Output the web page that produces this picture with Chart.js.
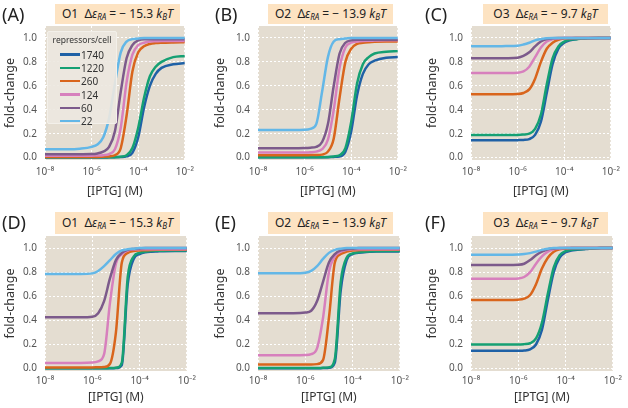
<!DOCTYPE html>
<html>
<head>
<meta charset="utf-8">
<script src="https://cdn.jsdelivr.net/npm/chart.js@4.4.1/dist/chart.umd.min.js"></script>
<style>
  body { margin: 0; width: 628px; height: 408px; background: #fff; position: relative; overflow: hidden; font-family: 'Noto Sans', sans-serif; }
  .panel { position: absolute; }
  .tag { position: absolute; font-size: 18px; color: #222; line-height: 20px; }
  .head { position: absolute; background: #fde3c2; font-size: 12px; color: #222; text-align: center; white-space: nowrap; }
  .head sub { font-size: 8px; vertical-align: -2px; }
  .legend { position: absolute; background: rgba(236, 232, 224, 0.9); border: 1px solid #f3f0ea; border-radius: 2px; font-size: 10px; color: #333; }
  .legend .ttl { font-size: 8.5px; text-align: center; margin: 2px 0 3px 0; }
  .legend .row { height: 13.3px; display: flex; align-items: center; }
  .legend .sw { width: 20px; height: 2.5px; margin: 0 1px 0 12px; }
</style>
</head>
<body>
<script>
const LOG_IPTG = [-8, -7, -6.5, -6, -5.75, -5.5, -5.25, -5, -4.75, -4.5, -4.25, -4, -3.75, -3.5, -3.25, -3, -2.5, -2];
const X_TICKS = [-8, -6, -4, -2];
const Y_TICKS = [0, 0.2, 0.4, 0.6, 0.8, 1.0];
const REPRESSORS = ["1740", "1220", "260", "124", "60", "22"];
const OPERATORS = ["O1", "O2", "O3"];
const BINDING_ENERGY = [-15.3, -13.9, -9.7];
const LETTERS = ["A", "B", "C", "D", "E", "F"];

// fold-change, one row per repressor count (same order as REPRESSORS)
const FC_A = [
  [0.001,0.001,0.001,0.001,0.001,0.001,0.002,0.003,0.005,0.01,0.04,0.17,0.42,0.6,0.7,0.75,0.78,0.79],
  [0.002,0.002,0.002,0.002,0.002,0.002,0.003,0.004,0.008,0.02,0.08,0.25,0.5,0.68,0.76,0.8,0.84,0.85],
  [0.005,0.005,0.005,0.005,0.006,0.008,0.01,0.02,0.08,0.35,0.72,0.88,0.93,0.95,0.957,0.96,0.963,0.965],
  [0.015,0.015,0.015,0.016,0.018,0.02,0.03,0.07,0.25,0.63,0.86,0.94,0.96,0.97,0.972,0.974,0.975,0.975],
  [0.028,0.028,0.029,0.03,0.035,0.05,0.09,0.22,0.55,0.83,0.94,0.98,0.99,0.99,0.99,0.99,0.99,0.99],
  [0.07,0.07,0.075,0.09,0.11,0.17,0.33,0.62,0.88,0.97,0.99,0.995,1,1,1,1,1,1]
];
const FC_B = [
  [0.002,0.002,0.002,0.002,0.002,0.002,0.003,0.004,0.006,0.01,0.05,0.22,0.52,0.7,0.78,0.81,0.835,0.84],
  [0.003,0.003,0.003,0.003,0.003,0.003,0.004,0.006,0.01,0.02,0.08,0.3,0.62,0.78,0.84,0.87,0.885,0.89],
  [0.02,0.02,0.02,0.02,0.021,0.022,0.025,0.05,0.16,0.5,0.8,0.91,0.95,0.96,0.965,0.968,0.97,0.97],
  [0.042,0.042,0.042,0.043,0.045,0.05,0.07,0.15,0.4,0.75,0.92,0.96,0.97,0.975,0.977,0.978,0.98,0.98],
  [0.078,0.078,0.078,0.08,0.083,0.09,0.13,0.28,0.6,0.87,0.96,0.98,0.985,0.985,0.985,0.985,0.985,0.985],
  [0.23,0.23,0.23,0.232,0.24,0.28,0.55,0.84,0.97,0.99,0.995,1,1,1,1,1,1,1]
];
const FC_C = [
  [0.145,0.145,0.145,0.146,0.148,0.155,0.19,0.3,0.54,0.78,0.91,0.96,0.98,0.99,0.995,0.998,1,1],
  [0.19,0.19,0.19,0.19,0.193,0.2,0.24,0.36,0.61,0.83,0.93,0.97,0.985,0.99,0.995,0.998,1,1],
  [0.53,0.53,0.53,0.532,0.54,0.57,0.66,0.8,0.91,0.96,0.985,0.995,0.998,1,1,1,1,1],
  [0.707,0.707,0.708,0.71,0.72,0.76,0.84,0.92,0.97,0.99,0.996,1,1,1,1,1,1,1],
  [0.83,0.83,0.831,0.835,0.85,0.88,0.93,0.97,0.99,0.997,1,1,1,1,1,1,1,1],
  [0.93,0.93,0.932,0.935,0.945,0.96,0.98,0.99,0.997,1,1,1,1,1,1,1,1,1]
];
const FC_D = [
  [0.002,0.002,0.002,0.002,0.002,0.002,0.003,0.004,0.03,0.7,0.91,0.95,0.965,0.97,0.972,0.974,0.975,0.975],
  [0.003,0.003,0.003,0.003,0.003,0.003,0.004,0.006,0.05,0.76,0.93,0.96,0.97,0.975,0.977,0.978,0.98,0.98],
  [0.01,0.01,0.01,0.01,0.011,0.013,0.04,0.3,0.88,0.96,0.975,0.98,0.982,0.984,0.985,0.985,0.985,0.985],
  [0.047,0.047,0.047,0.05,0.06,0.12,0.55,0.87,0.95,0.98,0.988,0.99,0.99,0.99,0.99,0.99,0.99,0.99],
  [0.425,0.425,0.425,0.43,0.46,0.56,0.75,0.9,0.96,0.985,0.993,0.997,1,1,1,1,1,1],
  [0.785,0.785,0.785,0.79,0.81,0.85,0.9,0.95,0.98,0.99,0.995,1,1,1,1,1,1,1]
];
const FC_E = [
  [0.003,0.003,0.003,0.003,0.003,0.003,0.004,0.006,0.05,0.65,0.9,0.95,0.96,0.966,0.969,0.971,0.972,0.972],
  [0.005,0.005,0.005,0.005,0.005,0.005,0.006,0.01,0.08,0.72,0.92,0.955,0.965,0.97,0.972,0.974,0.975,0.975],
  [0.033,0.033,0.033,0.033,0.034,0.037,0.07,0.42,0.88,0.95,0.97,0.98,0.982,0.984,0.985,0.985,0.985,0.985],
  [0.11,0.11,0.11,0.112,0.12,0.17,0.42,0.8,0.93,0.97,0.985,0.99,0.99,0.99,0.99,0.99,0.99,0.99],
  [0.46,0.46,0.46,0.465,0.48,0.56,0.72,0.88,0.95,0.98,0.99,0.995,1,1,1,1,1,1],
  [0.79,0.79,0.79,0.795,0.81,0.85,0.91,0.96,0.985,0.995,1,1,1,1,1,1,1,1]
];
const FC_F = [
  [0.147,0.147,0.147,0.148,0.15,0.16,0.2,0.32,0.57,0.8,0.92,0.965,0.98,0.985,0.99,0.995,1,1],
  [0.2,0.2,0.2,0.2,0.203,0.21,0.25,0.38,0.62,0.84,0.94,0.975,0.985,0.99,0.993,0.995,1,1],
  [0.57,0.57,0.57,0.572,0.58,0.61,0.7,0.83,0.92,0.97,0.99,0.995,1,1,1,1,1,1],
  [0.745,0.745,0.745,0.748,0.76,0.8,0.87,0.93,0.97,0.99,0.997,1,1,1,1,1,1,1],
  [0.86,0.86,0.86,0.862,0.87,0.9,0.94,0.97,0.99,0.997,1,1,1,1,1,1,1,1],
  [0.945,0.945,0.945,0.947,0.95,0.958,0.97,0.985,0.995,1,1,1,1,1,1,1,1,1]
];
const ALL_FC = [FC_A, FC_B, FC_C, FC_D, FC_E, FC_F];

const COLORS = ["#1f61a6", "#15a073", "#d9651c", "#d780bd", "#7c5a8b", "#63b7e7"];
const PLOT_BG = "#e4ddd1";

// panel geometry (pixels)
const COLS = [
  { left: 0, yW: 45, tagX: 2, headX: 55 },
  { left: 210, yW: 48, tagX: 215, headX: 268 },
  { left: 422, yW: 49, tagX: 425, headX: 483 }
];
const ROWS = [
  { top: 0, h: 205, padTop: 26, xH: 43, padBottom: 2, tickPad: 6, titlePad: 4, tagY: 4, headY: 4, headH: 20 },
  { top: 205, h: 203, padTop: 31, xH: 36, padBottom: 1, tickPad: 4, titlePad: 2, tagY: 212, headY: 212, headH: 22 }
];

const SUP = { "-": "\u207b", "0": "\u2070", "1": "\u00b9", "2": "\u00b2", "3": "\u00b3", "4": "\u2074", "5": "\u2075", "6": "\u2076", "7": "\u2077", "8": "\u2078", "9": "\u2079" };
const sup = v => String(v).split("").map(c => SUP[c] || c).join("");

Chart.defaults.font.family = "'Noto Sans', sans-serif";

const bgPlugin = {
  id: "plotBg",
  beforeDraw(chart) {
    const a = chart.chartArea, ctx = chart.ctx;
    ctx.save();
    ctx.fillStyle = PLOT_BG;
    ctx.fillRect(a.left, a.top, a.right - a.left, a.bottom - a.top);
    ctx.restore();
  }
};

function addDiv(cls, x, y, html, extra) {
  const d = document.createElement("div");
  d.className = cls;
  d.style.left = x + "px";
  d.style.top = y + "px";
  if (extra) Object.assign(d.style, extra);
  d.innerHTML = html;
  document.body.appendChild(d);
  return d;
}

function makePanel(idx) {
  const col = COLS[idx % 3], row = ROWS[Math.floor(idx / 3)];
  const w = 200 + (col.yW - 45);
  const wrap = addDiv("panel", col.left, row.top, "", { width: w + "px", height: row.h + "px" });
  const canvas = document.createElement("canvas");
  canvas.width = w; canvas.height = row.h;
  wrap.appendChild(canvas);

  const vals = ALL_FC[idx];
  new Chart(canvas, {
    type: "line",
    data: {
      datasets: REPRESSORS.map((r, i) => ({
        label: r,
        data: LOG_IPTG.map((x, j) => ({ x: x, y: vals[i][j] })),
        borderColor: COLORS[i],
        borderWidth: 2.5,
        pointRadius: 0,
        fill: false,
        cubicInterpolationMode: "monotone",
        order: REPRESSORS.length - i
      }))
    },
    options: {
      responsive: false,
      animation: false,
      devicePixelRatio: 1,
      layout: { padding: { top: row.padTop, right: 10, bottom: row.padBottom, left: 0 } },
      plugins: { legend: { display: false }, tooltip: { enabled: false } },
      scales: {
        x: {
          type: "linear", min: -8, max: -2,
          afterBuildTicks: s => { s.ticks = X_TICKS.map(v => ({ value: v })); },
          afterFit: s => { s.height = row.xH; },
          grid: { color: "#ffffff", lineWidth: 1, drawTicks: false },
          border: { display: false, dash: [2, 2] },
          ticks: { padding: row.tickPad, color: "#555", font: { size: 10 }, maxRotation: 0, callback: v => "10" + sup(v) },
          title: { display: true, text: "[IPTG] (M)", color: "#333", font: { size: 12 }, padding: { top: 0, bottom: row.titlePad } }
        },
        y: {
          type: "linear", min: -0.02, max: 1.1,
          afterBuildTicks: s => { s.ticks = Y_TICKS.map(v => ({ value: v })); },
          afterFit: s => { s.width = col.yW; },
          grid: { color: "#ffffff", lineWidth: 1, drawTicks: false },
          border: { display: false, dash: [2, 2] },
          ticks: { padding: 8, color: "#555", font: { size: 10 }, callback: v => v.toFixed(1) },
          title: { display: true, text: "fold-change", color: "#333", font: { size: 12.5 }, padding: { top: 3, bottom: 0 } }
        }
      }
    },
    plugins: [bgPlugin]
  });

  // panel letter and operator heading
  addDiv("tag", col.tagX, row.tagY, "(" + LETTERS[idx] + ")");
  const op = idx % 3;
  const e = Math.abs(BINDING_ENERGY[op]);
  addDiv("head", col.headX, row.headY,
    OPERATORS[op] + "&nbsp; \u0394<i>\u03b5</i><sub><i>RA</i></sub> = \u2212 " + e + " <i>k</i><sub><i>B</i></sub><i>T</i>",
    { width: "125px", height: row.headH + "px", lineHeight: row.headH + "px" });
}

for (let i = 0; i < 6; i++) makePanel(i);

// legend inside panel A
const leg = addDiv("legend", 47, 31, "<div class='ttl'>repressors/cell</div>", { width: "68px", height: "91px" });
REPRESSORS.forEach((r, i) => {
  const rowEl = document.createElement("div");
  rowEl.className = "row";
  rowEl.innerHTML = "<span class='sw' style='background:" + COLORS[i] + "'></span><span>" + r + "</span>";
  leg.appendChild(rowEl);
});
</script>
</body>
</html>
